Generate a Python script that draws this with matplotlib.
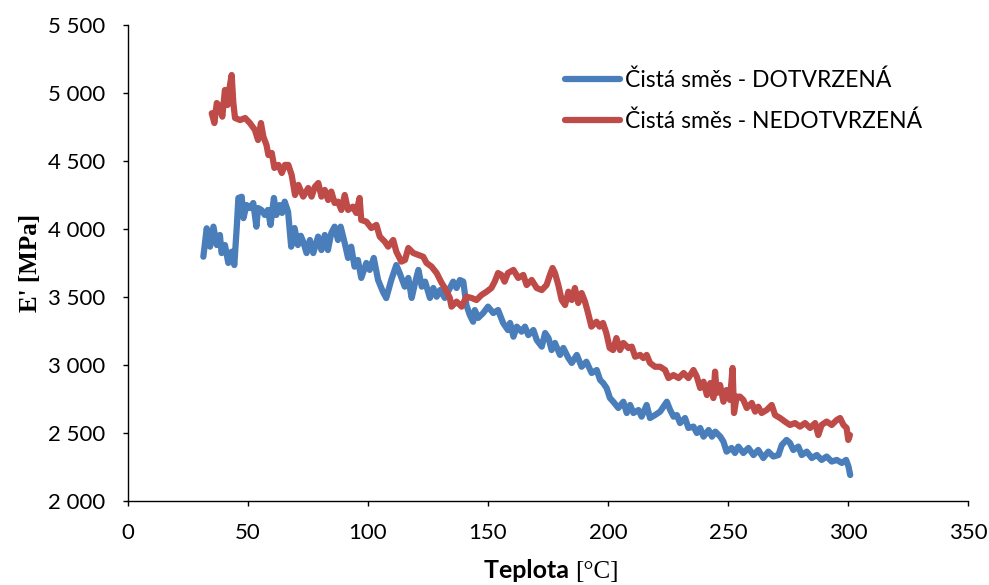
import numpy as np
import matplotlib
matplotlib.use('Agg')
import matplotlib.pyplot as plt
from matplotlib.ticker import FuncFormatter
from matplotlib.offsetbox import TextArea, HPacker, AnchoredOffsetbox

# Čistá směs - DOTVRZENÁ (teplota [°C], E' [MPa])
blue_t = [31.4, 32.8, 34.2, 35.6, 37.0, 38.3, 39.0, 40.4, 41.8, 43.2, 44.3, 45.3, 46.0, 47.4, 48.1,
          49.4, 50.8, 52.2, 53.5, 54.2, 55.6, 57.0, 58.3, 59.4, 60.8, 61.8, 63.2, 64.2, 65.3, 66.7,
          68.0, 69.4, 70.8, 72.0, 73.0, 74.4, 75.8, 77.2, 79.2, 80.6, 82.0, 83.3, 84.7, 86.1, 87.5,
          88.6, 90.3, 91.7, 93.0, 94.4, 95.8, 97.2, 99.3, 100.7, 102.4, 104.2, 106.2, 107.6, 109.7,
          111.8, 113.2, 115.3, 116.8, 118.2, 119.6, 121.0, 122.4, 123.8, 125.8, 127.2, 128.6, 130.0,
          132.0, 134.1, 135.5, 136.9, 138.3, 139.7, 141.0, 142.4, 143.8, 144.5, 145.9, 148.0, 150.0,
          152.2, 154.2, 156.3, 158.3, 159.2, 160.6, 162.0, 164.0, 165.4, 166.8, 168.9, 170.3, 172.4,
          173.8, 175.2, 176.5, 177.9, 180.0, 181.4, 183.5, 184.9, 187.0, 189.0, 191.0, 193.2, 195.3,
          196.7, 198.0, 199.4, 200.8, 202.2, 204.3, 206.4, 207.8, 209.2, 210.6, 212.7, 214.0, 216.1,
          217.5, 219.6, 221.7, 223.1, 224.5, 225.9, 227.3, 228.7, 230.0, 232.1, 233.5, 235.6, 237.0,
          238.4, 239.8, 241.9, 243.3, 244.7, 246.8, 248.1, 249.4, 251.5, 252.9, 254.3, 256.4, 258.5,
          260.6, 262.6, 264.7, 266.8, 268.9, 271.0, 272.4, 274.4, 275.8, 277.2, 279.3, 280.7, 282.8,
          284.9, 287.0, 289.0, 291.1, 293.2, 295.3, 297.4, 299.2, 300.2, 300.9]
blue_e = [3796, 4005, 3870, 4017, 3882, 3956, 3823, 3882, 3750, 3833, 3735, 4007, 4228, 4237, 4080,
          4176, 4154, 4191, 4017, 4154, 4140, 4103, 4140, 4030, 4228, 4103, 4176, 4118, 4201, 4127,
          3870, 4007, 3882, 3950, 3907, 3823, 3919, 3823, 3944, 3845, 3956, 3845, 3970, 4017, 3919,
          4017, 3897, 3787, 3870, 3723, 3772, 3640, 3750, 3699, 3787, 3625, 3539, 3492, 3625,
          3735, 3676, 3576, 3640, 3493, 3603, 3699, 3576, 3613, 3493, 3566, 3502, 3551,
          3493, 3566, 3613, 3566, 3625, 3613, 3441, 3368, 3318, 3404, 3346, 3382, 3429,
          3382, 3404, 3309, 3257, 3309, 3208, 3282, 3245, 3282, 3220, 3257, 3184, 3135,
          3235, 3198, 3110, 3162, 3074, 3125, 3051, 3015, 3074, 2987, 3024, 2941, 2963,
          2890, 2867, 2831, 2757, 2730, 2684, 2730, 2647, 2706, 2647, 2669, 2620, 2706,
          2610, 2632, 2657, 2693, 2730, 2669, 2620, 2632, 2573, 2610, 2537, 2547, 2500,
          2537, 2473, 2522, 2473, 2510, 2473, 2436, 2363, 2390, 2353, 2400, 2353, 2390,
          2338, 2375, 2316, 2363, 2327, 2338, 2412, 2449, 2427, 2375, 2400, 2338, 2363,
          2316, 2338, 2302, 2327, 2290, 2302, 2280, 2302, 2253, 2191]

# Čistá směs - NEDOTVRZENÁ
red_t = [34.9, 36.0, 37.0, 38.3, 39.3, 40.4, 41.5, 42.5, 43.2, 43.9, 44.6, 46.7, 48.8, 50.8, 52.9,
         54.2, 55.4, 56.4, 57.7, 58.5, 59.9, 61.0, 62.7, 64.1, 65.4, 66.8, 68.2, 69.6, 71.0, 73.0,
         75.1, 76.5, 77.9, 79.3, 80.6, 82.0, 83.4, 84.7, 86.1, 87.5, 88.9, 90.3, 91.7, 93.7, 95.1,
         96.5, 97.2, 99.3, 101.4, 103.5, 104.9, 107.0, 108.4, 110.5, 111.8, 113.9, 115.4, 116.8,
         118.9, 121.0, 123.0, 124.4, 126.5, 128.6, 130.7, 132.0, 134.1, 134.8, 136.9, 139.0, 141.0,
         143.1, 145.2, 147.3, 149.4, 151.4, 152.8, 154.2, 155.6, 156.9, 158.3, 160.6, 162.6, 164.7,
         166.1, 168.2, 170.3, 172.4, 174.4, 175.8, 176.9, 177.9, 179.3, 180.7, 182.1, 183.5, 184.9,
         186.2, 187.6, 189.0, 190.4, 191.7, 193.1, 195.2, 196.5, 197.9, 199.3, 200.7, 202.1, 203.5,
         205.0, 206.4, 208.5, 209.9, 211.3, 213.4, 214.7, 216.1, 217.5, 219.6, 221.7, 223.8, 225.2,
         227.3, 229.4, 231.5, 233.5, 235.6, 237.0, 238.4, 239.8, 241.2, 242.6, 243.9, 244.6, 245.3,
         246.7, 248.1, 249.4, 250.8, 251.9, 252.5, 253.6, 255.0, 256.4, 257.8, 259.9, 261.3, 262.6,
         264.0, 266.1, 268.2, 269.6, 271.7, 273.7, 275.8, 277.9, 280.0, 282.1, 284.2, 286.3, 287.6,
         289.0, 291.1, 293.2, 295.3, 296.7, 298.1, 299.4, 300.1, 300.8]
red_e = [4851, 4779, 4926, 4900, 4826, 5022, 4912, 5059, 5132, 4926, 4816, 4801, 4816, 4779, 4728,
         4654, 4779, 4679, 4618, 4544, 4559, 4449, 4471, 4412, 4471, 4471, 4397, 4250, 4324, 4238,
         4301, 4238, 4311, 4338, 4238, 4287, 4213, 4275, 4191, 4201, 4140, 4250, 4140, 4164, 4118,
         4228, 4066, 4054, 4007, 4030, 3944, 3907, 3870, 3919, 3833, 3760, 3772, 3860,
         3823, 3809, 3796, 3750, 3723, 3676, 3603, 3566, 3493, 3429, 3466, 3429, 3502,
         3493, 3478, 3515, 3539, 3566, 3613, 3676, 3662, 3613, 3676, 3699, 3640, 3662,
         3588, 3625, 3566, 3551, 3588, 3662, 3713, 3676, 3588, 3478, 3441, 3539, 3478,
         3566, 3456, 3529, 3466, 3382, 3282, 3318, 3282, 3309, 3235, 3125, 3110, 3198,
         3110, 3162, 3125, 3135, 3061, 3074, 3051, 3074, 3015, 2987, 2987, 2963, 2904,
         2926, 2904, 2941, 2904, 2963, 2914, 2831, 2877, 2779, 2867, 2757, 2951, 2794,
         2853, 2730, 2816, 2743, 2978, 2647, 2767, 2767, 2743, 2684, 2721, 2657, 2693,
         2647, 2669, 2706, 2632, 2610, 2584, 2559, 2573, 2547, 2573, 2537, 2573, 2485,
         2559, 2584, 2559, 2596, 2610, 2559, 2537, 2449, 2485]

x_ticks = [0, 50, 100, 150, 200, 250, 300, 350]
y_ticks = [2000, 2500, 3000, 3500, 4000, 4500, 5000, 5500]

plt.rcParams['font.family'] = ['Lato', 'DejaVu Sans']

fig = plt.figure(figsize=(9.89, 5.85), dpi=100)
ax = fig.add_axes([0.1294, 0.1436, 0.8494, 0.8137])

ax.plot(blue_t, blue_e, color='#4a7ebb', lw=4.5, solid_joinstyle='round', solid_capstyle='round',
        label='Čistá směs - DOTVRZENÁ')
ax.plot(red_t, red_e, color='#be4b48', lw=4.5, solid_joinstyle='round', solid_capstyle='round',
        label='Čistá směs - NEDOTVRZENÁ')

ax.set_xlim(0, 350)
ax.set_ylim(2000, 5500)
ax.set_xticks(x_ticks)
ax.set_yticks(y_ticks)
ax.yaxis.set_major_formatter(FuncFormatter(lambda v, p: f'{int(v):,}'.replace(',', ' ')))
ax.tick_params(direction='out', length=3.6, width=1, labelsize=16, colors='black')
ax.tick_params(axis='x', pad=12)
ax.tick_params(axis='y', pad=13)
for s in ['top', 'right']:
    ax.spines[s].set_visible(False)
for s in ['left', 'bottom']:
    ax.spines[s].set_linewidth(1)

ax.set_ylabel("E' [MPa]", fontsize=18, fontweight='bold', family='Liberation Serif', labelpad=4)

xl = HPacker(children=[TextArea('Teplota ', textprops=dict(fontsize=18, fontweight='bold', family='Lato')),
                       TextArea('[°C]', textprops=dict(fontsize=18, family='Liberation Serif'))],
             align='baseline', pad=0, sep=0)
box = AnchoredOffsetbox(loc='center', child=xl, frameon=False, pad=0,
                        bbox_to_anchor=(0.557, 0.024), bbox_transform=fig.transFigure, borderpad=0)
fig.add_artist(box)

ax.legend(loc='upper left', bbox_to_anchor=(0.52, 0.906), frameon=False, fontsize=16.5,
          handlelength=2.4, handletextpad=0.22, labelspacing=0.85, borderpad=0, borderaxespad=0)

fig.savefig('out.png', dpi=100)
